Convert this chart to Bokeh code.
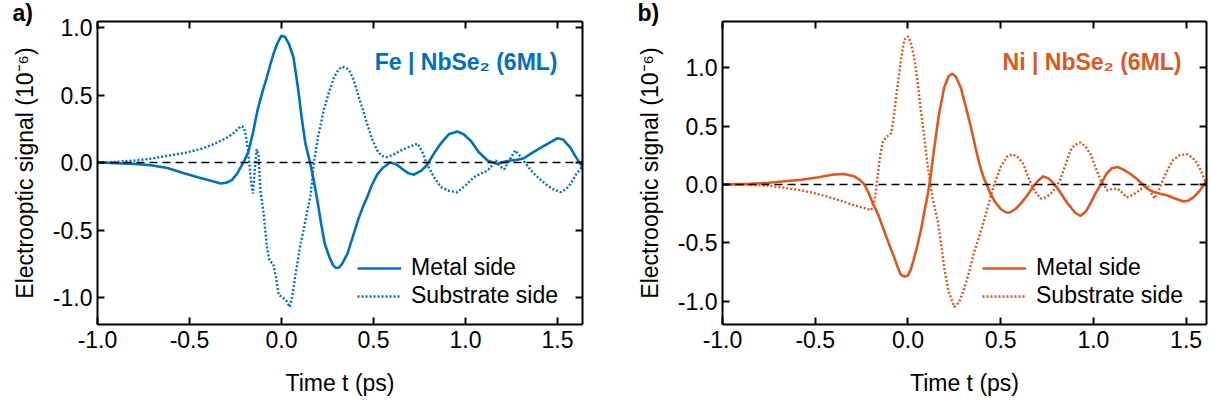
from bokeh.plotting import figure
from bokeh.models import (Range1d, LinearAxis, FixedTicker, PrintfTickFormatter,
                          Span, Label, Legend, LegendItem)
from bokeh.layouts import row
from bokeh.embed import file_html
from bokeh.resources import INLINE

# ---------------- data ----------------
# Panel a) Fe | NbSe2 (6ML)
fe_metal_t = [-1.00, -0.90, -0.80, -0.71, -0.62, -0.53, -0.45, -0.40, -0.36, -0.33,
              -0.30, -0.27, -0.24, -0.22, -0.20, -0.18, -0.155, -0.13, -0.10, -0.08,
              -0.06, -0.04, -0.02, 0.00, 0.02, 0.04, 0.065, 0.09, 0.11, 0.13,
              0.157, 0.175, 0.195, 0.215, 0.235, 0.26, 0.28, 0.295, 0.31, 0.33,
              0.36, 0.39, 0.42, 0.445, 0.465, 0.49, 0.52, 0.55, 0.59, 0.62,
              0.65, 0.69, 0.72, 0.76, 0.79, 0.83, 0.865, 0.91, 0.955, 0.99,
              1.03, 1.07, 1.12, 1.17, 1.21, 1.245, 1.28, 1.315, 1.36, 1.41,
              1.46, 1.50, 1.53, 1.57, 1.60, 1.635]
fe_metal_v = [0.00, -0.005, -0.01, -0.02, -0.04, -0.08, -0.11, -0.13, -0.145, -0.155,
              -0.15, -0.13, -0.08, -0.03, 0.02, 0.08, 0.22, 0.39, 0.54, 0.63,
              0.73, 0.82, 0.89, 0.94, 0.93, 0.88, 0.78, 0.55, 0.33, 0.14,
              -0.01, -0.13, -0.28, -0.45, -0.60, -0.70, -0.76, -0.78, -0.78, -0.75,
              -0.67, -0.54, -0.41, -0.32, -0.26, -0.17, -0.09, -0.04, 0.00, -0.01,
              -0.04, -0.08, -0.09, -0.06, -0.02, 0.07, 0.14, 0.21, 0.23, 0.21,
              0.16, 0.08, 0.015, -0.01, 0.005, 0.015, 0.02, 0.03, 0.07, 0.11,
              0.15, 0.18, 0.17, 0.11, 0.04, -0.03]

fe_subs_t = [-1.00, -0.90, -0.80, -0.70, -0.62, -0.53, -0.44, -0.38, -0.33, -0.29,
             -0.26, -0.235, -0.22, -0.205, -0.195, -0.185, -0.175, -0.165, -0.155, -0.145,
             -0.135, -0.125, -0.115, -0.097, -0.08, -0.065, -0.045, -0.03, -0.015, 0.005,
             0.025, 0.045, 0.06, 0.075, 0.10, 0.12, 0.14, 0.157, 0.167, 0.176,
             0.20, 0.23, 0.26, 0.285, 0.31, 0.33, 0.35, 0.365, 0.39, 0.41,
             0.44, 0.465, 0.49, 0.52, 0.545, 0.575, 0.61, 0.65, 0.70, 0.74,
             0.765, 0.79, 0.83, 0.865, 0.91, 0.955, 1.00, 1.045, 1.085, 1.12,
             1.145, 1.165, 1.19, 1.21, 1.24, 1.27, 1.295, 1.315, 1.34, 1.37,
             1.41, 1.445, 1.48, 1.515, 1.545, 1.57, 1.60, 1.635]
fe_subs_v = [0.00, 0.005, 0.015, 0.03, 0.05, 0.07, 0.10, 0.13, 0.16, 0.19,
             0.22, 0.25, 0.27, 0.26, 0.21, 0.12, 0.00, -0.15, -0.23, -0.05,
             0.10, 0.05, -0.20, -0.38, -0.62, -0.73, -0.75, -0.85, -0.98, -1.00,
             -1.02, -1.07, -0.98, -0.84, -0.63, -0.50, -0.36, -0.25, -0.13, 0.00,
             0.20, 0.39, 0.53, 0.63, 0.69, 0.71, 0.70, 0.69, 0.62, 0.53,
             0.40, 0.29, 0.18, 0.09, 0.05, 0.04, 0.06, 0.09, 0.12, 0.14,
             0.08, -0.01, -0.11, -0.18, -0.21, -0.22, -0.17, -0.11, -0.08, -0.06,
             -0.02, 0.015, -0.03, -0.05, 0.02, 0.09, 0.05, 0.015, -0.03, -0.08,
             -0.13, -0.17, -0.20, -0.22, -0.20, -0.16, -0.09, -0.03]

# Panel b) Ni | NbSe2 (6ML)
ni_metal_t = [-1.00, -0.85, -0.75, -0.65, -0.575, -0.49, -0.40, -0.345, -0.29, -0.26,
              -0.235, -0.21, -0.19, -0.16, -0.13, -0.10, -0.075, -0.055, -0.04, -0.02,
              0.00, 0.015, 0.03, 0.05, 0.07, 0.09, 0.105, 0.12, 0.14, 0.165,
              0.195, 0.22, 0.24, 0.26, 0.285, 0.31, 0.34, 0.365, 0.39, 0.41,
              0.43, 0.445, 0.47, 0.50, 0.53, 0.55, 0.58, 0.61, 0.645, 0.67,
              0.70, 0.73, 0.76, 0.785, 0.81, 0.86, 0.90, 0.93, 0.96, 0.985,
              1.01, 1.04, 1.07, 1.10, 1.13, 1.16, 1.20, 1.24, 1.29, 1.325,
              1.36, 1.40, 1.44, 1.485, 1.51, 1.54, 1.575, 1.61]
ni_metal_v = [0.00, 0.005, 0.015, 0.03, 0.04, 0.06, 0.085, 0.09, 0.07, 0.04,
              0.00, -0.08, -0.16, -0.26, -0.39, -0.52, -0.62, -0.71, -0.77, -0.79,
              -0.78, -0.73, -0.65, -0.53, -0.39, -0.22, -0.10, 0.04, 0.29, 0.58,
              0.83, 0.93, 0.95, 0.92, 0.83, 0.68, 0.49, 0.31, 0.15, 0.05,
              -0.02, -0.08, -0.15, -0.21, -0.24, -0.24, -0.21, -0.16, -0.09, -0.03,
              0.03, 0.07, 0.05, 0.01, -0.04, -0.16, -0.24, -0.27, -0.23, -0.16,
              -0.08, 0.00, 0.09, 0.14, 0.15, 0.13, 0.09, 0.04, -0.035, -0.065,
              -0.08, -0.095, -0.12, -0.145, -0.14, -0.11, -0.05, 0.03]

ni_subs_t = [-1.00, -0.85, -0.75, -0.66, -0.575, -0.49, -0.40, -0.34, -0.29, -0.24,
             -0.20, -0.185, -0.175, -0.165, -0.15, -0.135, -0.115, -0.09, -0.075, -0.055,
             -0.035, -0.02, 0.00, 0.015, 0.033, 0.05, 0.07, 0.09, 0.107, 0.12,
             0.133, 0.16, 0.18, 0.195, 0.22, 0.25, 0.275, 0.30, 0.33, 0.355,
             0.385, 0.41, 0.44, 0.465, 0.50, 0.535, 0.565, 0.595, 0.62, 0.65,
             0.68, 0.715, 0.745, 0.77, 0.80, 0.82, 0.85, 0.875, 0.90, 0.93,
             0.955, 0.985, 1.01, 1.04, 1.075, 1.10, 1.13, 1.155, 1.18, 1.21,
             1.235, 1.265, 1.29, 1.31, 1.33, 1.355, 1.38, 1.405, 1.43, 1.465,
             1.505, 1.535, 1.56, 1.585, 1.61]
ni_subs_v = [0.00, -0.005, -0.01, -0.03, -0.05, -0.08, -0.12, -0.15, -0.18, -0.20,
             -0.22, -0.18, -0.08, 0.05, 0.25, 0.37, 0.41, 0.44, 0.60, 0.86,
             1.10, 1.24, 1.27, 1.22, 1.09, 0.90, 0.63, 0.38, 0.15, 0.01,
             -0.12, -0.31, -0.52, -0.71, -0.92, -1.05, -1.01, -0.91, -0.75, -0.59,
             -0.44, -0.31, -0.14, 0.00, 0.15, 0.24, 0.26, 0.23, 0.18, 0.06,
             -0.05, -0.12, -0.11, -0.08, -0.02, 0.04, 0.17, 0.29, 0.34, 0.36,
             0.33, 0.26, 0.15, 0.035, -0.05, -0.04, -0.035, -0.07, -0.11, -0.09,
             -0.065, -0.03, -0.01, -0.07, -0.12, -0.04, 0.06, 0.14, 0.21, 0.25,
             0.26, 0.23, 0.18, 0.10, 0.00]

x_ticks = [-1.0, -0.5, 0.0, 0.5, 1.0, 1.5]
y_ticks = [-1.0, -0.5, 0.0, 0.5, 1.0]
legend_labels = ["Metal side", "Substrate side"]
titles = ["Fe | NbSe\u2082 (6ML)", "Ni | NbSe\u2082 (6ML)"]
panel_tags = ["a)", "b)"]
y_label = "Electrooptic signal (10\u207b\u2076)"
x_label = "Time t (ps)"

BLUE = "#0070C0"
ORANGE = "#E0561F"
FONT = "Liberation Sans"
FS = "23px"


def style_axis(ax, ticks, show, standoff=5):
    ax.ticker = FixedTicker(ticks=ticks, minor_ticks=[])
    ax.formatter = PrintfTickFormatter(format="%.1f")
    ax.axis_line_color = "black"
    ax.axis_line_width = 2
    ax.major_tick_in = 7
    ax.major_tick_out = 0
    ax.major_tick_line_width = 2
    ax.major_tick_line_color = "black"
    ax.minor_tick_line_color = None
    ax.major_label_text_font = FONT
    ax.major_label_standoff = standoff
    ax.axis_label_text_color = "black"
    if show:
        ax.major_label_text_font_size = FS
        ax.major_label_text_color = "black"
    else:
        ax.major_label_text_font_size = "0px"
        ax.major_label_text_color = None


def make_panel(width, mbl, mbr, x_end, y_end, t1, v1, t2, v2, color, title, tag, frame_w):
    p = figure(width=width, height=405, x_range=Range1d(-1.0, x_end),
               y_range=Range1d(-1.2, y_end), output_backend="svg",
               toolbar_location=None, x_axis_location=None, y_axis_location=None,
               min_border_left=mbl, min_border_right=mbr, min_border_top=21,
               min_border_bottom=81)
    p.outline_line_color = None
    p.grid.grid_line_color = None
    p.background_fill_color = "white"
    p.border_fill_color = "white"

    # panel tag "a)" / "b)" as the plot title, shifted to the left corner
    p.title.text = tag
    p.title.align = "left"
    p.title.offset = -85
    p.title.standoff = -12
    p.title.vertical_align = "top"
    p.title.text_font = FONT
    p.title.text_font_size = FS
    p.title.text_font_style = "bold"
    p.title.text_color = "black"

    bottom = LinearAxis(axis_label=x_label)
    style_axis(bottom, x_ticks, True, standoff=6)
    bottom.axis_label_text_font = FONT
    bottom.axis_label_text_font_size = FS
    bottom.axis_label_text_font_style = "normal"
    bottom.axis_label_standoff = 19
    top = LinearAxis()
    style_axis(top, x_ticks, False, standoff=0)
    left = LinearAxis(axis_label=y_label)
    style_axis(left, y_ticks, True, standoff=5)
    left.axis_label_text_font = FONT
    left.axis_label_text_font_size = FS
    left.axis_label_text_font_style = "normal"
    left.axis_label_standoff = 12
    right = LinearAxis()
    style_axis(right, y_ticks, False, standoff=0)
    p.add_layout(bottom, "below")
    p.add_layout(top, "above")
    p.add_layout(left, "left")
    p.add_layout(right, "right")

    zero = Span(location=0, dimension="width", line_color="black",
                line_dash="8 5", line_width=1.5)
    p.add_layout(zero)

    r1 = p.line(t1, v1, line_color=color, line_width=2.6)
    r2 = p.line(t2, v2, line_color=color, line_width=2.4, line_dash="2 2")

    legend = Legend(items=[LegendItem(label=legend_labels[0], renderers=[r1]),
                           LegendItem(label=legend_labels[1], renderers=[r2])],
                    location=(260, 15), border_line_color=None,
                    background_fill_alpha=0, label_text_font=FONT,
                    label_text_font_size=FS, label_text_color="black",
                    glyph_width=44, glyph_height=24,
                    label_height=24, spacing=1, padding=0, margin=0,
                    label_standoff=10)
    p.add_layout(legend)

    p.add_layout(Label(x=frame_w - 25, y=263, x_units="screen", y_units="screen",
                       text=title, text_font=FONT, text_font_size=FS,
                       text_font_style="bold", text_color=color,
                       text_align="right", text_baseline="alphabetic"))
    return p


pa = make_panel(600, 97, 18, 1.636, 1.045, fe_metal_t, fe_metal_v, fe_subs_t, fe_subs_v,
                BLUE, titles[0], panel_tags[0], 485)
pb = make_panel(611, 122, 5, 1.61, 1.397, ni_metal_t, ni_metal_v, ni_subs_t, ni_subs_v,
                ORANGE, titles[1], panel_tags[1], 484)

layout = row(pa, pb)
open("out.html", "w").write(file_html(layout, INLINE))
